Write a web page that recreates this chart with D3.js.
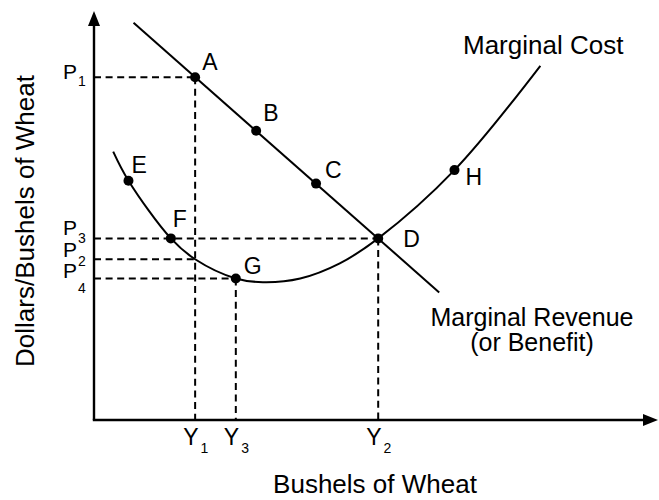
<!DOCTYPE html>
<html>
<head>
<meta charset="utf-8">
<title>Marginal Cost and Marginal Revenue</title>
<script src="https://cdn.jsdelivr.net/npm/d3@7"></script>
<style>
  body { margin: 0; background: #fff; }
  svg text { font-family: "Liberation Sans", Arial, Helvetica, sans-serif; fill: #000; }
</style>
</head>
<body>
<svg id="chart" width="659" height="500"></svg>
<script>
// values (abstract units, 0-100 on both axes)
var priceSubs = ["1", "3", "2", "4"];
var priceValues = [83.8, 44.4, 39.3, 34.6];
var priceToQty = [0, 2, 0, 1];      // how far each price guide runs

var qtySubs = ["1", "3", "2"];
var qtyValues = [17.9, 25.1, 50.3];
var qtyTopPrice = [0, 3, 1];        // where each quantity guide starts

var mrX = [7.0, 61.1];
var mrY = [97.1, 31.2];

var mcX = [3.4, 6.1, 13.6, 17.9, 25.1, 29.9, 36.5, 43.5, 50.3, 63.8, 79.0];
var mcY = [65.6, 58.5, 44.4, 39.3, 34.6, 33.7, 34.6, 38.3, 44.4, 61.1, 86.6];

var pointNames = ["A", "B", "C", "D", "E", "F", "G", "H"];
var pointX = [17.9, 28.7, 39.3, 50.3, 6.1, 13.6, 25.1, 63.8];
var pointY = [83.8, 70.7, 57.8, 44.4, 58.5, 44.4, 34.6, 61.1];

// label nudges (px)
var pointLabelOff = {A: [7, -7], B: [7, -10], C: [9, -6], D: [25, 9], E: [3, -8], F: [2, -11], G: [8, -4], H: [11, 15]};
var priceLabelOff = [[2, 7], [-3, 8], [-2, 9], [0, 15]];

var svg = d3.select("#chart");
var x = d3.scaleLinear().domain([0, 100]).range([94, 659]);
var y = d3.scaleLinear().domain([0, 100]).range([420, 11]);

var dash = "7,4.6";

// dashed guides
priceValues.forEach(function (p, i) {
  svg.append("line")
    .attr("x1", x(0)).attr("x2", x(qtyValues[priceToQty[i]]))
    .attr("y1", y(p)).attr("y2", y(p))
    .attr("stroke", "#000").attr("stroke-width", 2).attr("stroke-dasharray", dash);
});
qtyValues.forEach(function (q, i) {
  svg.append("line")
    .attr("x1", x(q)).attr("x2", x(q))
    .attr("y1", y(priceValues[qtyTopPrice[i]])).attr("y2", y(0))
    .attr("stroke", "#000").attr("stroke-width", 2).attr("stroke-dasharray", dash);
});

// curves
var line = d3.line().x(function (d) { return x(d[0]); }).y(function (d) { return y(d[1]); });
svg.append("path")
  .attr("d", line(d3.zip(mrX, mrY)))
  .attr("fill", "none").attr("stroke", "#000").attr("stroke-width", 2);
svg.append("path")
  .attr("d", line.curve(d3.curveCatmullRom.alpha(0.5))(d3.zip(mcX, mcY)))
  .attr("fill", "none").attr("stroke", "#000").attr("stroke-width", 2);

// points
svg.selectAll("circle.pt")
  .data(pointNames)
  .enter().append("circle")
  .attr("class", "pt")
  .attr("cx", function (d, i) { return x(pointX[i]); })
  .attr("cy", function (d, i) { return y(pointY[i]); })
  .attr("r", 5)
  .attr("fill", "#000");

svg.selectAll("text.ptlab")
  .data(pointNames)
  .enter().append("text")
  .attr("class", "ptlab")
  .attr("x", function (d, i) { return x(pointX[i]) + pointLabelOff[d][0]; })
  .attr("y", function (d, i) { return y(pointY[i]) + pointLabelOff[d][1]; })
  .attr("font-size", 23)
  .text(function (d) { return d; });

// axes
var ax0 = x(0), ay0 = y(0);
svg.append("line").attr("x1", ax0).attr("y1", ay0).attr("x2", ax0).attr("y2", y(100) + 10)
  .attr("stroke", "#000").attr("stroke-width", 2.4);
svg.append("line").attr("x1", ax0 - 1.2).attr("y1", ay0).attr("x2", x(100) - 10).attr("y2", ay0)
  .attr("stroke", "#000").attr("stroke-width", 2.4);
svg.append("path")
  .attr("d", "M" + ax0 + "," + (y(100)) + "L" + (ax0 - 6) + "," + (y(100) + 15) + "L" + (ax0 + 6) + "," + (y(100) + 15) + "Z")
  .attr("fill", "#000");
svg.append("path")
  .attr("d", "M" + (x(100) - 1) + "," + ay0 + "L" + (x(100) - 16) + "," + (ay0 - 6) + "L" + (x(100) - 16) + "," + (ay0 + 6) + "Z")
  .attr("fill", "#000");

// price labels
priceValues.forEach(function (p, i) {
  var t = svg.append("text")
    .attr("x", ax0 - 31)
    .attr("y", y(p) + priceLabelOff[i][0])
    .attr("font-size", 21);
  t.append("tspan").text("P");
  t.append("tspan").attr("dx", 1).attr("dy", priceLabelOff[i][1]).attr("font-size", 14).text(priceSubs[i]);
});

// quantity labels
qtyValues.forEach(function (q, i) {
  var t = svg.append("text")
    .attr("x", x(q) - 12)
    .attr("y", 445)
    .attr("font-size", 23);
  t.append("tspan").text("Y");
  t.append("tspan").attr("dx", 2).attr("dy", 8).attr("font-size", 14).text(qtySubs[i]);
});

// curve names
svg.append("text").attr("x", 463).attr("y", 54).attr("font-size", 26).text("Marginal Cost");
svg.append("text").attr("x", 532).attr("y", 326).attr("font-size", 25)
  .attr("text-anchor", "middle").text("Marginal Revenue");
svg.append("text").attr("x", 532).attr("y", 351).attr("font-size", 25)
  .attr("text-anchor", "middle").text("(or Benefit)");

// axis titles
svg.append("text")
  .attr("transform", "translate(34,221) rotate(-90)")
  .attr("text-anchor", "middle").attr("font-size", 26)
  .text("Dollars/Bushels of Wheat");
svg.append("text")
  .attr("x", 375).attr("y", 493)
  .attr("text-anchor", "middle").attr("font-size", 26)
  .text("Bushels of Wheat");
</script>
</body>
</html>
